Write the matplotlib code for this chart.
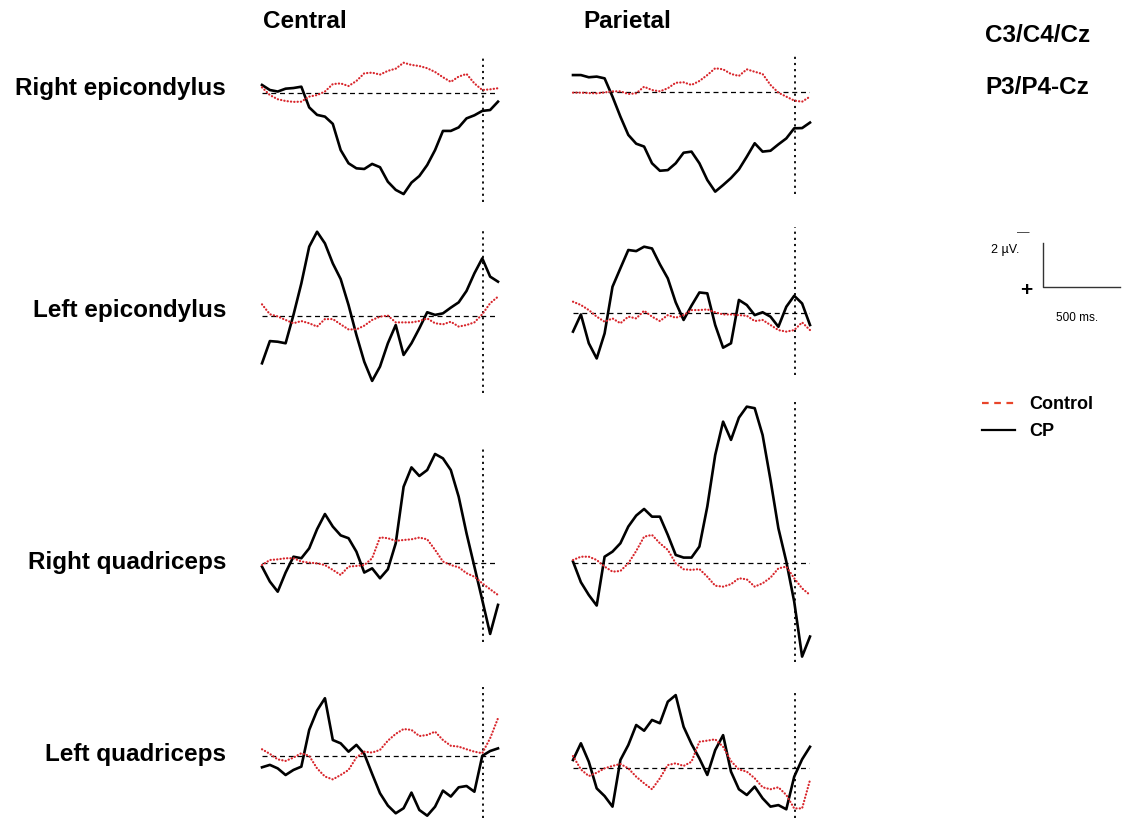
import numpy as np
import matplotlib.pyplot as plt
from matplotlib.lines import Line2D

plt.rcParams['font.family'] = ['Liberation Sans', 'DejaVu Sans']

# time axis of every trace (ms), one sample every 51 ms
t = np.linspace(0, 1530, 31)
t_mark = 1435          # dotted vertical marker
scale_ms = 500         # calibration bar
scale_uv = 2

rows = ["Right epicondylus", "Left epicondylus", "Right quadriceps", "Left quadriceps"]
cols = ["Central", "Parietal"]

# amplitudes in microvolt (negative drawn upwards)
cp_c_repi = [-0.38, -0.15, -0.08, -0.21, -0.24, -0.30, 0.64, 0.98, 1.06, 1.39, 2.58, 3.18, 3.41, 3.44, 3.21, 3.36,
             4.02, 4.39, 4.58, 4.06, 3.76, 3.26, 2.58, 1.71, 1.71, 1.55, 1.14, 1.00, 0.80, 0.76, 0.38]
ctl_c_repi = [-0.27, 0.08, 0.27, 0.35, 0.39, 0.38, 0.15, 0.08, -0.08, -0.42, -0.45, -0.33, -0.56, -0.91, -0.94, -0.85,
              -1.02, -1.12, -1.39, -1.29, -1.24, -1.14, -0.97, -0.73, -0.52, -0.76, -0.88, -0.45, -0.15, -0.18, -0.23]
cp_p_repi = [-0.77, -0.77, -0.67, -0.70, -0.62, 0.21, 1.12, 1.95, 2.35, 2.48, 3.24, 3.58, 3.55, 3.24, 2.76, 2.71,
             3.24, 4.00, 4.53, 4.23, 3.91, 3.52, 2.94, 2.33, 2.71, 2.67, 2.38, 2.11, 1.65, 1.64, 1.39]
ctl_p_repi = [0.03, 0.03, 0.05, 0.06, 0.02, -0.03, -0.03, 0.09, 0.06, -0.24, -0.09, -0.03, -0.17, -0.42, -0.44, -0.32,
              -0.50, -0.77, -1.08, -1.03, -0.82, -0.73, -1.03, -0.92, -0.82, -0.32, 0.03, 0.21, 0.39, 0.44, 0.21]

cp_c_lepi = [2.15, 1.14, 1.17, 1.24, -0.05, -1.48, -3.15, -3.83, -3.30, -2.39, -1.68, -0.50, 0.86, 2.08, 2.95, 2.30,
             1.24, 0.41, 1.77, 1.24, 0.56, -0.17, -0.05, -0.12, -0.38, -0.62, -1.14, -1.94, -2.62, -1.79, -1.56]
ctl_c_lepi = [-0.53, -0.08, 0.02, 0.18, 0.33, 0.23, 0.33, 0.48, 0.14, 0.14, 0.38, 0.61, 0.61, 0.44, 0.18, 0.03,
              -0.02, 0.29, 0.29, 0.29, 0.23, 0.11, 0.33, 0.38, 0.26, 0.48, 0.41, 0.29, -0.08, -0.58, -0.88]
cp_p_lepi = [0.86, 0.08, 1.39, 2.08, 0.94, -1.18, -2.02, -2.85, -2.80, -3.00, -2.92, -2.20, -1.56, -0.47, 0.33, -0.32,
             -0.92, -0.88, 0.56, 1.59, 1.39, -0.58, -0.35, 0.11, -0.02, 0.18, 0.64, -0.27, -0.77, -0.42, 0.56]
ctl_p_lepi = [-0.50, -0.35, -0.12, 0.18, 0.41, 0.26, 0.48, 0.18, 0.26, -0.09, 0.18, 0.38, 0.11, 0.23, 0.11, -0.12,
              -0.12, -0.15, -0.02, 0.08, 0.08, 0.11, 0.14, 0.38, 0.33, 0.56, 0.79, 0.86, 0.79, 0.44, 0.79]

cp_c_rquad = [0.15, 0.83, 1.29, 0.42, -0.30, -0.23, -0.68, -1.55, -2.24, -1.67, -1.27, -1.14, -0.53, 0.42, 0.23, 0.68,
              0.27, -0.91, -3.48, -4.36, -3.97, -4.24, -4.97, -4.77, -4.24, -3.03, -1.36, 0.15, 1.67, 3.21, 1.89]
ctl_c_rquad = [0.08, -0.15, -0.18, -0.23, -0.23, -0.08, -0.03, 0.00, 0.08, 0.30, 0.53, 0.15, 0.12, 0.08, -0.23, -1.18,
               -1.14, -1.02, -1.06, -1.09, -1.17, -1.09, -0.61, -0.08, 0.08, 0.18, 0.45, 0.61, 0.91, 1.18, 1.44]
cp_p_rquad = [-0.08, 0.86, 1.44, 1.92, -0.30, -0.53, -0.91, -1.67, -2.17, -2.47, -2.12, -2.12, -1.29, -0.38, -0.26,
              -0.26, -0.76, -2.58, -4.92, -6.44, -5.61, -6.62, -7.12, -7.05, -5.83, -3.79, -1.59, -0.08, 1.74, 4.24, 3.33]
ctl_p_rquad = [-0.15, -0.30, -0.30, -0.15, 0.15, 0.38, 0.35, 0.00, -0.56, -1.21, -1.29, -0.91, -0.61, 0.00, 0.27, 0.30,
               0.26, 0.61, 1.02, 1.06, 0.95, 0.68, 0.73, 1.06, 0.91, 0.65, 0.23, 0.15, 0.68, 1.14, 1.44]

cp_c_lquad = [0.50, 0.39, 0.55, 0.85, 0.62, 0.47, -1.20, -2.08, -2.64, -0.74, -0.59, -0.21, -0.52, -0.11, 0.80, 1.68,
              2.24, 2.59, 2.36, 1.65, 2.44, 2.70, 2.29, 1.56, 1.83, 1.41, 1.35, 1.61, -0.02, -0.24, -0.36]
ctl_c_lquad = [-0.32, -0.11, 0.14, 0.21, 0.06, -0.14, -0.02, 0.55, 0.92, 1.05, 0.85, 0.62, 0.05, -0.21, -0.17, -0.29,
               -0.71, -1.02, -1.24, -1.20, -0.92, -0.97, -1.12, -0.74, -0.48, -0.44, -0.32, -0.21, -0.14, -0.82, -1.73]
cp_p_lquad = [-0.35, -1.11, -0.27, 0.94, 1.29, 1.77, -0.35, -1.03, -1.94, -1.68, -2.17, -2.02, -3.00, -3.30, -1.86,
              -1.08, -0.42, 0.33, -0.80, -1.48, 0.18, 0.98, 1.24, 0.86, 1.39, 1.77, 1.70, 1.89, 0.41, -0.38, -0.95]
ctl_p_lquad = [-0.53, 0.08, 0.38, 0.23, 0.03, -0.08, -0.17, 0.03, 0.41, 0.71, 0.98, 0.48, -0.12, -0.20, -0.08, -0.27,
               -1.18, -1.23, -1.29, -0.95, -0.30, 0.08, 0.18, 0.48, 0.89, 0.98, 0.89, 1.24, 1.85, 1.85, 0.56]

cp = [[cp_c_repi, cp_p_repi], [cp_c_lepi, cp_p_lepi], [cp_c_rquad, cp_p_rquad], [cp_c_lquad, cp_p_lquad]]
ctl = [[ctl_c_repi, ctl_p_repi], [ctl_c_lepi, ctl_p_lepi], [ctl_c_rquad, ctl_p_rquad], [ctl_c_lquad, ctl_p_lquad]]

# ---- layout (pixels of the 1126x823 picture)
W, H = 1126, 823
PX_PER_UV = 22.0
col_x = [(262, 498), (573, 810)]
# (top, bottom, baseline) for central / parietal panels in each row
row_y = [[(55, 202, 93.3), (55, 194, 92.0)],
         [(228, 393, 316.0), (227, 375, 312.7)],
         [(448, 642, 563.3), (402, 662, 563.3)],
         [(687, 818, 756.3), (690, 818, 767.7)]]
row_label_y = [88, 311, 562, 755]

RED = '#d8262c'


def fx(x):
    return x / W


def fy(y):
    return 1 - y / H


fig = plt.figure(figsize=(W / 100, H / 100), dpi=100)

for i in range(4):
    for j in range(2):
        x0, x1 = col_x[j]
        top, bot, base = row_y[i][j]
        ax = fig.add_axes([fx(x0), fy(bot), (x1 - x0) / W, (bot - top) / H])
        ax.set_xlim(0, 1530)
        ax.set_ylim((bot - base) / PX_PER_UV, (top - base) / PX_PER_UV)
        ax.axis('off')
        ax.axhline(0, color='k', lw=0.9, ls=(0, (4, 3)), zorder=1)
        ax.axvline(t_mark, color='k', lw=1.3, ls=(0, (1.2, 2.2)), zorder=1)
        ax.plot(t, cp[i][j], color='k', lw=1.9, zorder=2, clip_on=False, solid_joinstyle='round')
        ax.plot(t, ctl[i][j], color=RED, lw=1.6, ls=(0, (0.1, 1.4)), dash_capstyle='round',
                zorder=3, clip_on=False)

# headings
for j, name in enumerate(cols):
    fig.text(fx(col_x[j][0] + (1 if j == 0 else 10)), fy(22), name, fontsize=17.5, fontweight='bold',
             ha='left', va='center')
for i, name in enumerate(rows):
    fig.text(fx(226), fy(row_label_y[i]), name, fontsize=17.5, fontweight='bold', ha='right', va='center')

fig.text(fx(985), fy(35), 'C3/C4/Cz', fontsize=17.5, fontweight='bold', ha='left', va='center')
fig.text(fx(985), fy(88), 'P3/P4-Cz', fontsize=17.5, fontweight='bold', ha='left', va='center')

# calibration bar, drawn on the same scale as the traces
sc = fig.add_axes([fx(1043), fy(287), scale_ms * (236 / 1530) / W, scale_uv * PX_PER_UV / H])
sc.set_xlim(0, scale_ms)
sc.set_ylim(0, -scale_uv)
sc.axis('off')
sc.plot([0, 0, scale_ms], [-scale_uv, 0, 0], color='#333333', lw=1.0, clip_on=False)
fig.text(fx(1023), fy(233), '—', fontsize=9, ha='center', va='center', color='#333333')
fig.text(fx(1005), fy(250), '2 µV.', fontsize=9, ha='center', va='center')
fig.text(fx(1026), fy(290), '+', fontsize=15, fontweight='bold', ha='center', va='center')
fig.text(fx(1077), fy(318), '500 ms.', fontsize=8.5, ha='center', va='center')

handles = [Line2D([], [], color='#e8452a', lw=1.6, ls=(0, (3, 2.5))),
           Line2D([], [], color='k', lw=1.6)]
fig.legend(handles, ['Control', 'CP'], loc='upper left', bbox_to_anchor=(fx(982), fy(396)),
           frameon=False, prop={'size': 13, 'weight': 'bold'}, handlelength=1.8,
           handletextpad=0.8, labelspacing=0.55, borderaxespad=0, borderpad=0)

fig.savefig('out.png', dpi=100)
